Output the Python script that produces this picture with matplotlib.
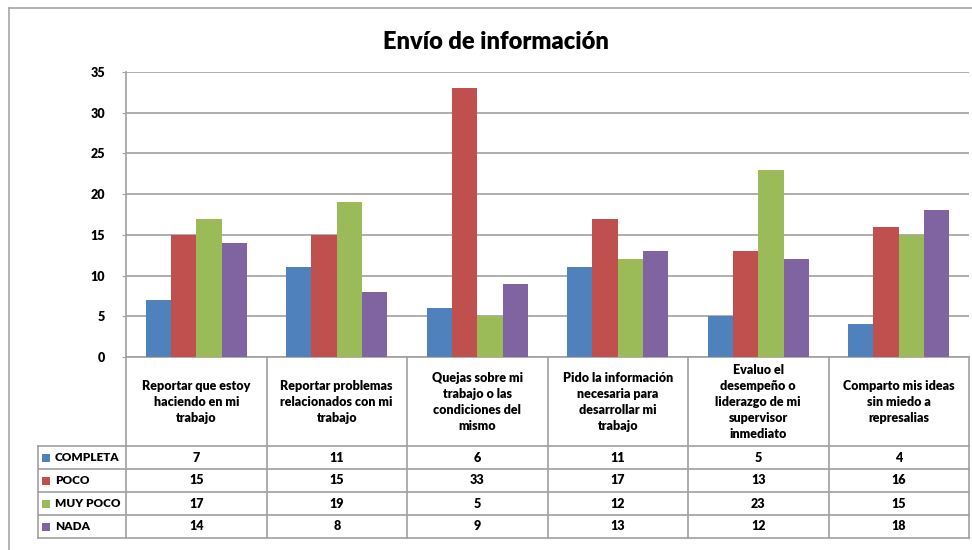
import matplotlib
matplotlib.use("Agg")
import matplotlib.pyplot as plt
from matplotlib.lines import Line2D
from matplotlib.patches import Rectangle
import numpy as np

plt.rcParams['font.family'] = ['Lato', 'DejaVu Sans']
plt.rcParams['font.weight'] = 'bold'

# ---- data ----
title = "Envío de información"
categories = [
    "Reportar que estoy\nhaciendo en mi\ntrabajo",
    "Reportar problemas\nrelacionados con mi\ntrabajo",
    "Quejas sobre mi\ntrabajo o las\ncondiciones del\nmismo",
    "Pido la información\nnecesaria para\ndesarrollar mi\ntrabajo",
    "Evaluo el\ndesempeño o\nliderazgo de mi\nsupervisor\ninmediato",
    "Comparto mis ideas\nsin miedo a\nrepresalias",
]
series_names = ["COMPLETA", "POCO", "MUY POCO", "NADA"]
completa = [7, 11, 6, 11, 5, 4]
poco = [15, 15, 33, 17, 13, 16]
muy_poco = [17, 19, 5, 12, 23, 15]
nada = [14, 8, 9, 13, 12, 18]
series_values = [completa, poco, muy_poco, nada]
colors = ["#4F81BD", "#C0504D", "#9BBB59", "#8064A2"]
y_ticks = [0, 5, 10, 15, 20, 25, 30, 35]

WEIGHT = "heavy"

# ---- figure geometry (pixels) ----
W, H = 972, 550
fig = plt.figure(figsize=(W / 100, H / 100), dpi=100)
fig.patch.set_facecolor("white")


def fx(x):
    return x / W


def fy(y):
    return 1 - y / H


grid_c = "#A0A0A0"
text_c = "#000000"

left, right = 126, 969
top, bottom = 72, 357
ax = fig.add_axes([fx(left), fy(bottom), fx(right) - fx(left), fy(top) - fy(bottom)])

n = len(categories)
x = np.arange(n)
bw = 0.18
for i, (vals, c) in enumerate(zip(series_values, colors)):
    ax.bar(x + (i - 1.5) * bw, vals, width=bw, color=c, edgecolor="none", zorder=3)

ax.set_xlim(-0.5, n - 0.5)
ax.set_ylim(0, 35)
ax.set_yticks(y_ticks)
ax.set_yticklabels([str(v) for v in y_ticks], fontsize=9, fontweight=WEIGHT)
ax.set_xticks([])
ax.yaxis.grid(True, color=grid_c, linewidth=1.2, zorder=0)
ax.set_axisbelow(True)
for s in ["top", "right"]:
    ax.spines[s].set_visible(False)
ax.spines["left"].set_color(grid_c)
ax.spines["bottom"].set_color(grid_c)
ax.spines["left"].set_linewidth(1.2)
ax.spines["bottom"].set_linewidth(1.2)
ax.tick_params(axis="y", length=3, color=grid_c, pad=12)

# ---- outer frame ----
fig.add_artist(Line2D([fx(9), fx(9)], [fy(8), fy(H)], color="#A6A6A6", lw=1.2))
fig.add_artist(Line2D([fx(9), fx(W)], [fy(8), fy(8)], color="#A6A6A6", lw=1.2))

# ---- title ----
fig.text(fx(496), fy(42), title, ha="center", va="center", fontsize=17,
         fontweight=WEIGHT, color=text_c)

# ---- data table ----
col_edges = [left + (right - left) * k / n for k in range(n + 1)]
hdr_bottom = 446
row_edges = [446, 469, 492, 515, 538]
tab_left = 38


def hline(y, x0, x1):
    fig.add_artist(Line2D([fx(x0), fx(x1)], [fy(y), fy(y)], color=grid_c, lw=1.2))


def vline(x, y0, y1):
    fig.add_artist(Line2D([fx(x), fx(x)], [fy(y0), fy(y1)], color=grid_c, lw=1.2))


for ce in col_edges:
    vline(ce, bottom, row_edges[-1])
vline(tab_left, row_edges[0], row_edges[-1])
for re in row_edges:
    hline(re, tab_left, right)

for k, cat in enumerate(categories):
    cx = (col_edges[k] + col_edges[k + 1]) / 2
    fig.text(fx(cx), fy((bottom + hdr_bottom) / 2 + 1), cat, ha="center", va="center",
             fontsize=9, fontweight=WEIGHT, linespacing=1.4, color=text_c)

for r, (name, vals, c) in enumerate(zip(series_names, series_values, colors)):
    cy = (row_edges[r] + row_edges[r + 1]) / 2
    fig.add_artist(Rectangle((fx(42), fy(cy + 4)), fx(8), 8 / H, facecolor=c, edgecolor="none"))
    fig.text(fx(55), fy(cy), name, ha="left", va="center", fontsize=8.5,
             fontweight=WEIGHT, color=text_c)
    for k, v in enumerate(vals):
        cx = (col_edges[k] + col_edges[k + 1]) / 2
        fig.text(fx(cx), fy(cy), str(v), ha="center", va="center", fontsize=9,
                 fontweight=WEIGHT, color=text_c)

fig.savefig("out.png", dpi=100, facecolor="white")
